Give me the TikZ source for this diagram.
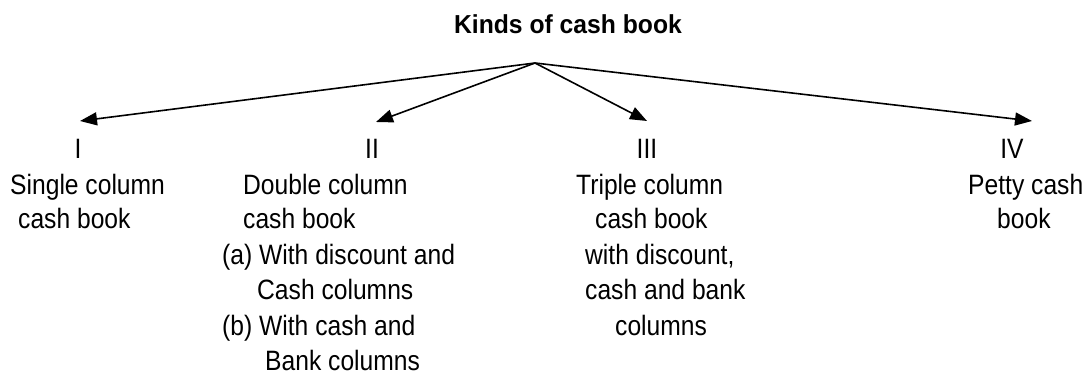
\documentclass[tikz,border=0pt]{standalone}
\usepackage{fontspec}
\setmainfont{Liberation Sans}[FakeStretch=0.88]
\newfontfamily\titlefont{Liberation Sans}[FakeStretch=0.95]
\usetikzlibrary{arrows.meta}
\begin{document}
\begin{tikzpicture}[x=1pt,y=-1pt,
  txt/.style={anchor=base west,inner sep=0pt,font=\fontsize{28}{32}\selectfont},
  num/.style={anchor=base,inner sep=0pt,font=\fontsize{28}{32}\selectfont},
  ttl/.style={anchor=base,inner sep=0pt,font=\titlefont\fontsize{26}{30}\selectfont\bfseries},
  arr/.style={line width=1.6pt,-{Triangle[length=17pt,width=13pt]}}]
\useasboundingbox (0,0) rectangle (1088,375);
\node[ttl] (title) at (568,33) {Kinds of cash book};
\coordinate (apex) at (535,63);
\coordinate (t1) at (80,121);
\coordinate (t2) at (376,122);
\coordinate (t3) at (647,121);
\coordinate (t4) at (1032,121);
\draw[arr] (apex) -- (t1);
\draw[arr] (apex) -- (t2);
\draw[arr] (apex) -- (t3);
\draw[arr] (apex) -- (t4);
% numerals
\node[num] (n1) at (78,158) {I};
\node[num] (n2) at (372,158) {II};
\node[num] (n3) at (647,158) {III};
\node[num] (n4) at (1012,158) {IV};
% column I
\node[txt] (a1) at (10,194) {Single column};
\node[txt] (a2) at (18,228) {cash book};
% column II
\node[txt] (b1) at (243,194) {Double column};
\node[txt] (b2) at (243,228) {cash book};
\node[txt] (b3) at (222,264) {(a) With discount and};
\node[txt] (b4) at (257,299) {Cash columns};
\node[txt] (b5) at (222,335) {(b) With cash and};
\node[txt] (b6) at (265,370) {Bank columns};
% column III
\node[txt] (c1) at (576,194) {Triple column};
\node[txt] (c2) at (595,228) {cash book};
\node[txt] (c3) at (585,264) {with discount,};
\node[txt] (c4) at (585,299) {cash and bank};
\node[txt] (c5) at (615,335) {columns};
% column IV
\node[txt] (d1) at (968,194) {Petty cash};
\node[txt] (d2) at (997,228) {book};
\end{tikzpicture}
\end{document}
